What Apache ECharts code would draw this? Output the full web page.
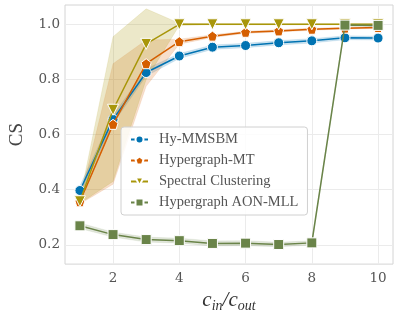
<!DOCTYPE html>
<html><head><meta charset="utf-8">
<script src="https://cdn.jsdelivr.net/npm/echarts@6/dist/echarts.min.js"></script>
<style>html,body{margin:0;padding:0;background:#fff}#c{width:399px;height:318px}</style>
</head><body><div id="c"></div>
<script>
const xs = [1, 2, 3, 4, 5, 6, 7, 8, 9, 10];
const xTicks = [2, 4, 6, 8, 10];
const yTicks = [0.2, 0.4, 0.6, 0.8, 1.0];

const hyMMSBM    = [0.397, 0.655, 0.825, 0.885, 0.917, 0.923, 0.933, 0.940, 0.951, 0.950];
const hyMMSBMLo  = [0.380, 0.640, 0.812, 0.876, 0.909, 0.915, 0.925, 0.932, 0.944, 0.943];
const hyMMSBMHi  = [0.414, 0.670, 0.838, 0.894, 0.925, 0.931, 0.941, 0.948, 0.958, 0.957];

const hyperMT    = [0.356, 0.637, 0.857, 0.937, 0.957, 0.971, 0.976, 0.982, 0.986, 0.988];
const hyperMTLo  = [0.348, 0.420, 0.775, 0.928, 0.952, 0.967, 0.972, 0.978, 0.983, 0.985];
const hyperMTHi  = [0.364, 0.857, 0.943, 0.946, 0.962, 0.975, 0.980, 0.986, 0.989, 0.991];

const spectral   = [0.358, 0.690, 0.929, 1.000, 1.000, 1.000, 1.000, 1.000, 1.000, 1.000];
const spectralLo = [0.350, 0.430, 0.800, 0.996, 0.998, 0.998, 0.998, 0.998, 0.998, 0.998];
const spectralHi = [0.366, 0.955, 1.056, 1.004, 1.002, 1.002, 1.002, 1.002, 1.002, 1.002];

const aonMLL     = [0.269, 0.237, 0.219, 0.215, 0.205, 0.206, 0.201, 0.207, 0.997, 0.996];
const aonMLLLo   = [0.259, 0.228, 0.210, 0.206, 0.196, 0.197, 0.193, 0.199, 0.993, 0.992];
const aonMLLHi   = [0.279, 0.246, 0.228, 0.224, 0.214, 0.215, 0.209, 0.215, 1.001, 1.000];

const names = ['Hy-MMSBM', 'Hypergraph-MT', 'Spectral Clustering', 'Hypergraph AON-MLL'];
const colors = ['#0173b2', '#d55e00', '#a8960a', '#6a8449'];
const bandColors = ['rgba(1,115,178,0.2)', 'rgba(213,94,0,0.2)', 'rgba(168,150,10,0.22)', 'rgba(106,132,73,0.2)'];
const means = [hyMMSBM, hyperMT, spectral, aonMLL];
const los = [hyMMSBMLo, hyperMTLo, spectralLo, aonMLLLo];
const his = [hyMMSBMHi, hyperMTHi, spectralHi, aonMLLHi];
const symbols = [
  'circle',
  'path://M0,-1 L0.951,-0.309 L0.588,0.809 L-0.588,0.809 L-0.951,-0.309 Z',
  'path://M-1,-0.8 L1,-0.8 L0,0.9 Z',
  'rect'
];
const symSizes = [10, 10, 11, 10];

const serif = '"DejaVu Serif", "Liberation Serif", serif';
const lserif = '"Liberation Serif", serif';
const series = [];
for (let k = 0; k < 4; k++) {
  const lo = los[k], hi = his[k];
  series.push({
    type: 'custom', name: 'band' + k, silent: true, z: 1,
    data: [[xs[0], lo[0]]],
    renderItem: function (params, api) {
      const pts = [];
      for (let i = 0; i < xs.length; i++) pts.push(api.coord([xs[i], hi[i]]));
      for (let i = xs.length - 1; i >= 0; i--) pts.push(api.coord([xs[i], lo[i]]));
      return { type: 'polygon', shape: { points: pts }, style: { fill: bandColors[k], stroke: bandColors[k], lineWidth: 0.5 } };
    }
  });
}
for (let k = 0; k < 4; k++) {
  series.push({
    type: 'line', name: names[k], z: 3 + k,
    data: xs.map((x, i) => [x, means[k][i]]),
    symbol: symbols[k], symbolSize: symSizes[k],
    lineStyle: { color: colors[k], width: 1.5 },
    itemStyle: { color: colors[k], borderColor: '#fff', borderWidth: 1 },
    emphasis: { disabled: true }
  });
}

const chart = echarts.init(document.getElementById('c'), null, { renderer: 'canvas' });
chart.setOption({
  animation: false,
  backgroundColor: '#fff',
  textStyle: { fontFamily: serif },
  grid: { left: 49, right: 6, top: 5, bottom: 49, show: true, borderColor: '#d4d4d4', borderWidth: 1, containLabel: false },
  xAxis: {
    type: 'value', min: 0.55, max: 10.45,
    axisLine: { show: false }, axisTick: { show: false, customValues: xTicks },
    axisLabel: { customValues: xTicks, color: '#555', fontSize: 13.5, fontFamily: serif, margin: 7 },
    splitLine: { show: true, lineStyle: { color: '#ebebeb', width: 1 } },
    name: '{i|c}{s|in}{i|/c}{s|out}', nameLocation: 'middle', nameGap: 5,
    nameTextStyle: {
      rich: {
        i: { fontSize: 21, fontStyle: 'italic', fontFamily: lserif, color: '#333', verticalAlign: 'top', lineHeight: 22 },
        s: { fontSize: 14, fontStyle: 'italic', fontFamily: lserif, color: '#333', verticalAlign: 'top', padding: [9, 0, 0, 0], lineHeight: 22 }
      }
    }
  },
  yAxis: {
    type: 'value', min: 0.13, max: 1.07,
    axisLine: { show: false }, axisTick: { show: false, customValues: yTicks },
    axisLabel: { customValues: yTicks, color: '#555', fontSize: 13.5, fontFamily: serif, margin: 5, formatter: v => v.toFixed(1) },
    splitLine: { show: true, lineStyle: { color: '#ebebeb', width: 1 } },
    name: 'CS', nameLocation: 'middle', nameGap: 38, nameRotate: 90,
    nameTextStyle: { fontSize: 19, fontFamily: lserif, color: '#444' }
  },
  legend: {
    data: names, orient: 'vertical', left: 121, top: 127,
    backgroundColor: 'rgba(255,255,255,0.85)', borderColor: '#d0d0d0', borderWidth: 1, borderRadius: 3,
    padding: [5, 9, 5, 9], itemGap: 6, itemWidth: 17, itemHeight: 10,
    textStyle: { fontSize: 14.5, fontFamily: lserif, color: '#555', padding: [0, 0, 0, 6], lineHeight: 15 }
  },
  series: series
});
</script></body></html>
